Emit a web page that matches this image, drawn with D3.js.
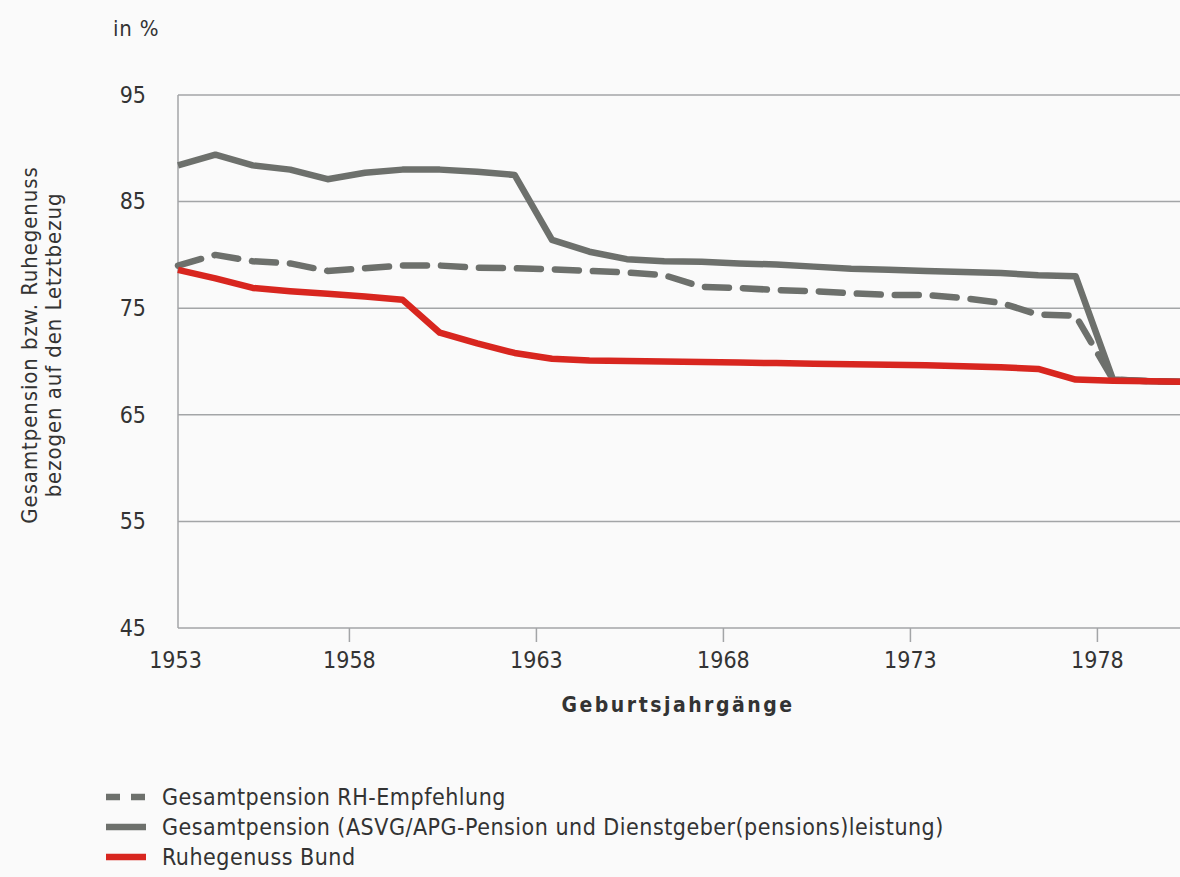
<!DOCTYPE html>
<html>
<head>
<meta charset="utf-8">
<script src="https://cdn.jsdelivr.net/npm/d3@7"></script>
<style>
  body { margin: 0; background: #fafafa; }
  text { font-family: "DejaVu Sans Condensed", "DejaVu Sans", sans-serif; fill: #333; }
</style>
</head>
<body>
<div id="chart"></div>
<script>
// Geburtsjahrgänge (one point per cohort)
const years = d3.range(1953, 1981);

// Gesamtpension (ASVG/APG-Pension und Dienstgeber(pensions)leistung)
const gesamt = [88.4, 89.4, 88.4, 88.0, 87.1, 87.7, 88.0, 88.0, 87.8, 87.5,
                81.4, 80.3, 79.6, 79.4, 79.35, 79.2, 79.1, 78.9, 78.7, 78.6,
                78.5, 78.4, 78.3, 78.1, 78.0, 68.3, 68.15, 68.1];

// Gesamtpension RH-Empfehlung
const empfehlung = [79.0, 80.0, 79.4, 79.2, 78.5, 78.75, 79.0, 79.0, 78.8, 78.75,
                    78.65, 78.5, 78.35, 78.1, 77.0, 76.9, 76.7, 76.6, 76.4, 76.25,
                    76.25, 75.95, 75.5, 74.4, 74.3, 68.3, 68.15, 68.1];

// Ruhegenuss Bund
const ruhegenuss = [78.6, 77.8, 76.9, 76.6, 76.35, 76.1, 75.8, 72.7, 71.7, 70.8,
                    70.25, 70.1, 70.05, 70.0, 69.95, 69.9, 69.85, 69.8, 69.75, 69.7,
                    69.65, 69.55, 69.45, 69.3, 68.3, 68.2, 68.15, 68.1];

const xTickValues = [1953, 1958, 1963, 1968, 1973, 1978];
const yTickValues = [45, 55, 65, 75, 85, 95];

const W = 1180, H = 877;
const plot = { left: 178, right: 1180, top: 95, bottom: 628 };

const svg = d3.select("#chart").append("svg")
    .attr("width", W)
    .attr("height", H);

// scales
const x = d3.scaleLinear().domain([1953, 1980]).range([plot.left, plot.left + 27 * 37.4]);
// tick marks sit slightly left of the cohort points
const xTicks = x.copy().domain([1953.43, 1980.43]);
const y = d3.scaleLinear().domain([45, 95]).range([plot.bottom, plot.top]);

svg.append("defs").append("clipPath")
    .attr("id", "clip")
  .append("rect")
    .attr("x", plot.left - 10)
    .attr("y", 0)
    .attr("width", plot.right - plot.left + 10)
    .attr("height", H);

// gridlines
svg.append("g")
  .selectAll("line")
  .data(yTickValues)
  .enter().append("line")
    .attr("x1", plot.left)
    .attr("x2", plot.right)
    .attr("y1", d => y(d))
    .attr("y2", d => y(d))
    .attr("stroke", "#a3a5a7")
    .attr("stroke-width", 1.5);

// left axis line
svg.append("line")
    .attr("x1", plot.left).attr("x2", plot.left)
    .attr("y1", plot.top).attr("y2", plot.bottom)
    .attr("stroke", "#a3a5a7")
    .attr("stroke-width", 1.5);

// y tick labels
const yAxis = d3.axisLeft(y).tickValues(yTickValues).tickSize(0).tickPadding(32);
const gy = svg.append("g")
    .attr("transform", `translate(${plot.left},0)`)
    .call(yAxis);
gy.select(".domain").remove();
gy.selectAll("text")
    .style("font-size", "23px")
    .attr("fill", "#333");

// x axis
const xAxis = d3.axisBottom(xTicks).tickValues(xTickValues).tickFormat(d3.format("d"))
    .tickSize(14).tickPadding(10);
const gx = svg.append("g")
    .attr("transform", `translate(0,${plot.bottom})`)
    .call(xAxis);
gx.select(".domain").remove();
gx.selectAll(".tick line").attr("stroke", "#a3a5a7").attr("stroke-width", 1.5);
gx.selectAll("text")
    .style("font-size", "23px")
    .attr("fill", "#333");
// first tick lies left of the plot: hide the mark, pull its label inside
gx.selectAll(".tick").filter(d => d === 1953)
    .each(function() {
      d3.select(this).select("line").remove();
      d3.select(this).select("text").attr("dx", plot.left - 3 - xTicks(1953));
    });

// axis titles
svg.append("text")
    .attr("x", 678)
    .attr("y", 712)
    .attr("text-anchor", "middle")
    .style("font-size", "21px")
    .style("font-weight", "bold")
    .style("letter-spacing", "2.5px")
    .attr("fill", "#222")
    .text("Geburtsjahrgänge");

svg.append("text")
    .attr("x", 113)
    .attr("y", 36)
    .style("font-size", "22px")
    .style("letter-spacing", "0.8px")
    .text("in %");

const ylab = svg.append("text")
    .attr("transform", "translate(0,345) rotate(-90)")
    .attr("text-anchor", "middle")
    .style("font-size", "22px")
    .style("letter-spacing", "0.9px");
ylab.append("tspan").attr("x", 0).attr("y", 37).text("Gesamtpension bzw. Ruhegenuss");
ylab.append("tspan").attr("x", 0).attr("y", 61).text("bezogen auf den Letztbezug");

// lines
const line = d3.line()
    .x((d, i) => x(years[i]))
    .y(d => y(d));

const lines = svg.append("g").attr("clip-path", "url(#clip)");

lines.append("path")
    .datum(empfehlung)
    .attr("d", line)
    .attr("fill", "none")
    .attr("stroke", "#6d706c")
    .attr("stroke-width", 6.5)
    .attr("stroke-linecap", "round")
    .attr("stroke-linejoin", "round")
    .attr("stroke-dasharray", "24,14");

lines.append("path")
    .datum(gesamt)
    .attr("d", line)
    .attr("fill", "none")
    .attr("stroke", "#6d706c")
    .attr("stroke-width", 6.5)
    .attr("stroke-linejoin", "round");

lines.append("path")
    .datum(ruhegenuss)
    .attr("d", line)
    .attr("fill", "none")
    .attr("stroke", "#d8261f")
    .attr("stroke-width", 6.5)
    .attr("stroke-linejoin", "round");

// legend
const legendItems = [
  { label: "Gesamtpension RH-Empfehlung", color: "#6d706c", dash: true },
  { label: "Gesamtpension (ASVG/APG-Pension und Dienstgeber(pensions)leistung)", color: "#6d706c", dash: false },
  { label: "Ruhegenuss Bund", color: "#d8261f", dash: false }
];

const legend = svg.selectAll(".legend")
    .data(legendItems)
  .enter().append("g")
    .attr("class", "legend")
    .attr("transform", (d, i) => `translate(106,${797 + i * 30})`);

legend.append("line")
    .attr("x1", 0)
    .attr("x2", 40)
    .attr("y1", 0)
    .attr("y2", 0)
    .attr("stroke", d => d.color)
    .attr("stroke-width", 6.5)
    .attr("stroke-dasharray", d => d.dash ? "14,11" : null);

legend.append("text")
    .attr("x", 56)
    .attr("y", 0)
    .attr("dy", "0.35em")
    .style("font-size", "23px")
    .style("letter-spacing", "0.5px")
    .text(d => d.label);
</script>
</body>
</html>
